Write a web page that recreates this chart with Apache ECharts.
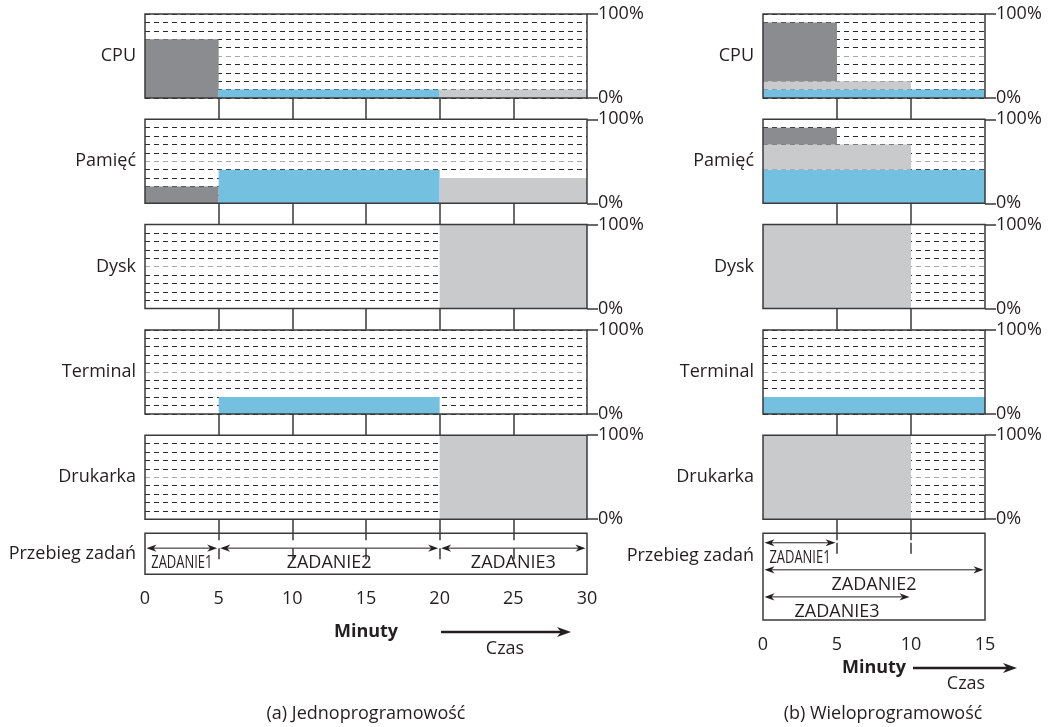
<!DOCTYPE html>
<html><head><meta charset="utf-8">
<script src="https://cdn.jsdelivr.net/npm/echarts@6.0.0/dist/echarts.min.js"></script>
<style>html,body{margin:0;padding:0;background:#fff}#c{width:1060px;height:727px}</style>
</head><body><div id="c"></div>
<script>
// ---------- data ----------
const resources = ['CPU', 'Pamięć', 'Dysk', 'Terminal', 'Drukarka'];
const jobNames = ['ZADANIE1', 'ZADANIE2', 'ZADANIE3'];
// (a) uniprogramming: job start / end minute
const uniStart = [0, 5, 20];
const uniEnd = [5, 20, 30];
// (b) multiprogramming: job start / end minute and lane in the job row
const multiStart = [0, 0, 0];
const multiEnd = [5, 15, 10];
const multiLane = [0, 1, 2];
// resource usage (%) per job [ZADANIE1, ZADANIE2, ZADANIE3]
const cpuUse = [70, 10, 10];
const memUse = [20, 40, 30];
const diskUse = [0, 0, 100];
const termUse = [0, 20, 0];
const printUse = [0, 0, 100];
// stacking order of jobs in multiprogramming (bottom -> top)
const stackOrder = [1, 2, 0];
// tick values / labels
const uniMax = 30, multiMax = 15, minuteStep = 5;
const uniInnerTicks = [5, 10, 15, 20, 25];
const multiInnerTicks = [5, 10];
const pctMax = 100, pctStep = 10;
const sideTitles = ['(a) Jednoprogramowość', '(b) Wieloprogramowość'];
const rowLabel = 'Przebieg zadań';
const axisName = 'Minuty';
const timeLabel = 'Czas';

// ---------- styles ----------
const FONT = "'Open Sans', sans-serif";
const INK = '#231f20';
const BORDER = '#3a3a3a';
const jobColors = ['#8b8c8f', '#74c0e1', '#c9cacc'];
const jobTextScale = [0.72, 1, 1];
const dashColors = ['#2a2a2a', '#2a2a2a', '#2a2a2a', '#2a2a2a', '#2a2a2a', '#aaa', '#2a2a2a', '#2a2a2a', '#2a2a2a', '#2a2a2a', '#2a2a2a'];

const usage = [cpuUse, memUse, diskUse, termUse, printUse];
const sides = [
  { left: 145, width: 442, max: uniMax, ticks: uniInnerTicks, jobTop: 533.3, jobH: 41, laneMin: -0.55, laneMax: 0.97, nameGap: 49, twoLine: false, titleX: 366 },
  { left: 763, width: 222, max: multiMax, ticks: multiInnerTicks, jobTop: 533.3, jobH: 86.6, laneMin: -0.35, laneMax: 2.85, nameGap: 39, twoLine: true, titleX: 883 }
];
const panelTop = i => 14 + i * 105.3;
const PANEL_H = 84;

function renderRect(params, api) {
  const p0 = api.coord([api.value(0), api.value(3)]);
  const p1 = api.coord([api.value(1), api.value(2)]);
  return {
    type: 'rect',
    shape: { x: p0[0], y: p0[1], width: p1[0] - p0[0], height: p1[1] - p0[1] },
    style: { fill: jobColors[api.value(4)] }
  };
}

function renderJob(params, api) {
  const a = api.coord([api.value(0), api.value(2)]);
  const b = api.coord([api.value(1), api.value(2)]);
  const j = api.value(3);
  const y = a[1];
  const x0 = a[0] + 1.5, x1 = b[0] - 1.5;
  const L = 10, W = 3.6;
  return {
    type: 'group',
    children: [
      { type: 'line', shape: { x1: x0 + 6, y1: y, x2: x1 - 6, y2: y }, style: { stroke: INK, lineWidth: 1 } },
      { type: 'polygon', shape: { points: [[x0, y], [x0 + L, y - W], [x0 + L - 3, y], [x0 + L, y + W]] }, style: { fill: INK } },
      { type: 'polygon', shape: { points: [[x1, y], [x1 - L, y - W], [x1 - L + 3, y], [x1 - L, y + W]] }, style: { fill: INK } },
      { type: 'text', x: (a[0] + b[0]) / 2, y: y + 15, scaleX: jobTextScale[j],
        style: { text: jobNames[j], fontSize: 18, fontFamily: FONT, fill: INK, align: 'center', verticalAlign: 'middle' } }
    ]
  };
}

const grid = [], xAxis = [], yAxis = [], series = [];
sides.forEach((s, si) => {
  resources.forEach((res, i) => {
    const g = grid.length;
    grid.push({ left: s.left, top: panelTop(i), width: s.width, height: PANEL_H, show: true,
      borderColor: BORDER, borderWidth: 1.5, backgroundColor: 'transparent', z: 5, outerBoundsMode: 'none' });
    xAxis.push({ gridIndex: g, type: 'value', min: 0, max: s.max, interval: minuteStep,
      axisLine: { show: false }, axisLabel: { show: false }, splitLine: { show: false },
      axisTick: { show: true, customValues: s.ticks, length: 21, inside: false, lineStyle: { color: BORDER, width: 1.5 } } });
    const yl = yAxis.length;
    yAxis.push({ gridIndex: g, type: 'value', position: 'left', min: 0, max: pctMax, interval: pctStep,
      name: res, nameLocation: 'middle', nameGap: 9, nameRotate: 0,
      nameTextStyle: { fontSize: 18, fontFamily: FONT, color: INK, align: 'right', verticalAlign: 'middle' },
      axisLine: { show: false }, axisTick: { show: false }, axisLabel: { show: false },
      splitLine: { show: true, lineStyle: { type: [5, 4], color: dashColors, width: 1.1 } } });
    yAxis.push({ gridIndex: g, type: 'value', position: 'right', min: 0, max: pctMax, interval: pctMax,
      axisLine: { show: false }, splitLine: { show: false },
      axisTick: { show: true, length: 11, lineStyle: { color: BORDER, width: 1.5 } },
      axisLabel: { show: true, formatter: '{value}%', margin: 11, fontSize: 18, fontFamily: FONT, color: INK } });
    const use = usage[i];
    const data = [];
    if (si === 0) {
      use.forEach((u, j) => { if (u > 0) data.push([uniStart[j], uniEnd[j], 0, u, j]); });
    } else {
      let base = 0;
      stackOrder.forEach(j => { const u = use[j]; if (u > 0) { data.push([multiStart[j], multiEnd[j], base, base + u, j]); base += u; } });
    }
    series.push({ type: 'custom', xAxisIndex: g, yAxisIndex: yl, renderItem: renderRect, data, z: 2, silent: true });
  });
  // job row
  const g = grid.length;
  grid.push({ left: s.left, top: s.jobTop, width: s.width, height: s.jobH, show: true,
    borderColor: BORDER, borderWidth: 1.5, backgroundColor: 'transparent', z: 5, outerBoundsMode: 'none' });
  xAxis.push({ gridIndex: g, type: 'value', min: 0, max: s.max, interval: minuteStep,
    axisLine: { show: false }, splitLine: { show: false },
    axisTick: { show: true, customValues: s.ticks, length: 11, inside: false, lineStyle: { color: BORDER, width: 1.5 } },
    axisLabel: { show: true, margin: 16, fontSize: 18, fontFamily: FONT, color: INK },
    name: axisName, nameLocation: 'middle', nameGap: s.nameGap,
    nameTextStyle: { fontSize: 18, fontWeight: 'bold', fontFamily: FONT, color: INK } });
  const yl = yAxis.length;
  yAxis.push({ gridIndex: g, type: 'value', inverse: true, min: s.laneMin, max: s.laneMax,
    name: s.twoLine ? rowLabel + '\n\u00a0' : rowLabel, nameLocation: 'middle', nameGap: 9, nameRotate: 0,
    nameTextStyle: { fontSize: 18, fontFamily: FONT, color: INK, align: 'right', verticalAlign: 'middle', lineHeight: s.twoLine ? 41 : 24 },
    axisLine: { show: false }, axisTick: { show: false }, axisLabel: { show: false }, splitLine: { show: false } });
  const jd = jobNames.map((n, j) => si === 0 ? [uniStart[j], uniEnd[j], 0, j] : [multiStart[j], multiEnd[j], multiLane[j], j]);
  series.push({ type: 'custom', xAxisIndex: g, yAxisIndex: yl, renderItem: renderJob, data: jd, z: 6, silent: true, clip: false });
});

function timeArrow(x1, x2, y) {
  return [
    { type: 'line', shape: { x1: x1, y1: y, x2: x2 - 8, y2: y }, style: { stroke: INK, lineWidth: 2.5 } },
    { type: 'polygon', shape: { points: [[x2, y], [x2 - 14, y - 5], [x2 - 10, y], [x2 - 14, y + 5]] }, style: { fill: INK } }
  ];
}
const txt = (x, y, t) => ({ type: 'text', x, y, style: { text: t, fontSize: 18, fontFamily: FONT, fill: INK, align: 'center', verticalAlign: 'middle' } });

const graphic = [
  ...timeArrow(441, 571, 632), txt(505, 649, timeLabel),
  ...timeArrow(913, 1017, 668), txt(966, 684, timeLabel),
  txt(sides[0].titleX, 714, sideTitles[0]), txt(sides[1].titleX, 714, sideTitles[1])
];

const chart = echarts.init(document.getElementById('c'), null, { renderer: 'canvas' });
chart.setOption({
  animation: false,
  backgroundColor: '#fff',
  textStyle: { fontFamily: FONT },
  grid, xAxis, yAxis, series, graphic
});
</script></body></html>
